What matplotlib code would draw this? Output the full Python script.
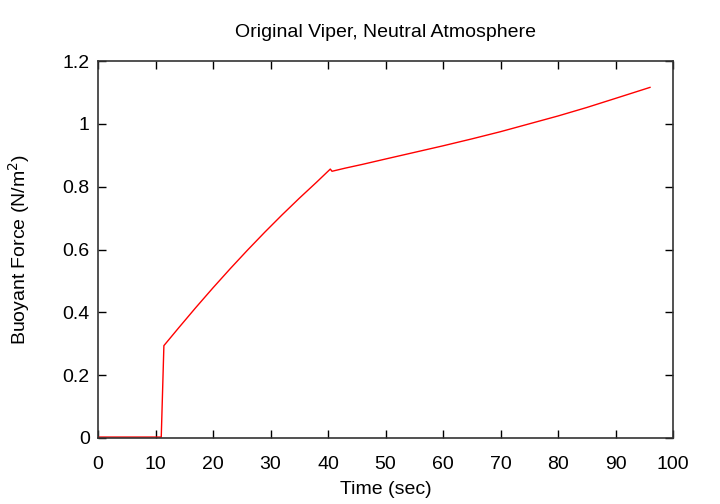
import matplotlib
matplotlib.use("Agg")
import matplotlib.pyplot as plt
from matplotlib.ticker import FuncFormatter

plt.rcParams['font.family'] = ['Liberation Sans', 'DejaVu Sans']

time_sec = [0.0, 5.0, 10.0, 11.0, 11.46, 14.0, 17.0, 20.0, 23.0, 26.0, 29.0, 32.0, 35.0,
            38.0, 40.4, 40.7, 43.0, 46.0, 50.0, 55.0, 60.0, 65.0, 70.0, 75.0, 80.0,
            85.0, 90.0, 96.0]
buoyant_force = [0.003, 0.003, 0.003, 0.003, 0.294, 0.350, 0.415, 0.478, 0.539, 0.598,
                 0.655, 0.710, 0.763, 0.814, 0.856, 0.849, 0.859, 0.871, 0.888, 0.909,
                 0.930, 0.952, 0.975, 1.000, 1.025, 1.052, 1.081, 1.116]

x_ticks = [0, 10, 20, 30, 40, 50, 60, 70, 80, 90, 100]
y_ticks = [0, 0.2, 0.4, 0.6, 0.8, 1.0, 1.2]

fig = plt.figure(figsize=(7.2, 5.04), dpi=100)
ax = fig.add_axes([98/720, 66/504, 575/720, 377/504])
ax.plot(time_sec, buoyant_force, color='red', lw=1.0)
ax.set_xlim(0, 100)
ax.set_ylim(0, 1.2)
ax.set_xticks(x_ticks)
ax.set_yticks(y_ticks)
ax.yaxis.set_major_formatter(FuncFormatter(lambda v, p: f"{v:g}"))
ax.tick_params(direction='in', top=True, right=True, labelsize=14, length=6, width=1)
ax.tick_params(axis='x', pad=13)
ax.tick_params(axis='y', pad=6)
for s in ax.spines.values():
    s.set_linewidth(1.2)
    s.set_color('#333333')
ax.set_xlabel('Time (sec)', fontsize=14, labelpad=6)
ax.set_ylabel('Buoyant Force (N/m$^2$)', fontsize=14, labelpad=22)
ax.set_title('Original Viper, Neutral Atmosphere', fontsize=14, pad=17)
fig.savefig('out.png', dpi=100)
